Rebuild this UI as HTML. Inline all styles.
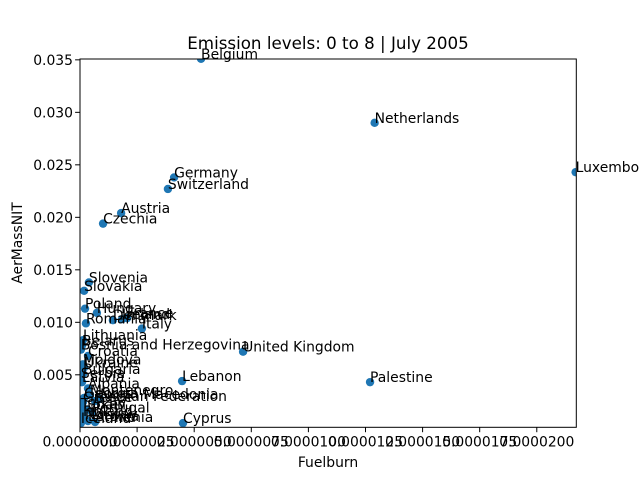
<!DOCTYPE html>
<html><head><meta charset="utf-8"><style>
html,body{margin:0;padding:0;background:#fff}
svg{display:block;font-family:"DejaVu Sans","Liberation Sans",sans-serif}
</style></head><body>
<svg id="chart" width="640" height="480">
<rect width="640" height="480" fill="#fff"/>
<text x="328" y="49" font-size="16.7" text-anchor="middle">Emission levels: 0 to 8 | July 2005</text>
<g id="plot"></g>
<rect x="80" y="59" width="496.3" height="368.3" fill="none" stroke="#000" stroke-width="1"/>
<g id="xaxis"></g><g id="yaxis"></g>
<text x="328" y="467" font-size="13.9" text-anchor="middle">Fuelburn</text>
<text x="0" y="0" font-size="13.9" text-anchor="middle" transform="translate(22,243) rotate(-90)">AerMassNIT</text>
</svg>
<script>
const countries=["Belgium","Netherlands","Luxembourg","Germany","Switzerland","Austria","Czechia","Slovenia","Slovakia","Poland","Hungary","France","Ireland","Denmark","Romania","Italy","Lithuania","Belarus","Bosnia and Herzegovina","United Kingdom","Croatia","Moldova","Ukraine","Bulgaria","Serbia","Latvia","Lebanon","Palestine","Albania","Montenegro","North Macedonia","Russian Federation","Georgia","Greece","Turkey","Spain","Portugal","Finland","Norway","Estonia","Iceland","Cyprus","Armenia"];
const fuelburn=[5.30e-6,1.29e-5,2.17e-5,4.12e-6,3.85e-6,1.80e-6,1.01e-6,0.39e-6,0.18e-6,0.22e-6,0.74e-6,2.06e-6,1.84e-6,1.44e-6,0.26e-6,2.71e-6,0.13e-6,0.09e-6,0.04e-6,7.14e-6,0.35e-6,0.13e-6,0.18e-6,0.13e-6,0.04e-6,0.09e-6,4.47e-6,1.27e-5,0.35e-6,0.44e-6,0.88e-6,0.66e-6,0.18e-6,0.13e-6,0.04e-6,0.31e-6,0.53e-6,0.13e-6,0.22e-6,0.35e-6,0.04e-6,4.51e-6,0.66e-6];
const aerMassNIT=[0.0351,0.0290,0.0243,0.0238,0.0227,0.0204,0.0194,0.0138,0.0130,0.0113,0.0109,0.0104,0.0103,0.0102,0.0099,0.0094,0.0083,0.0078,0.0074,0.0072,0.0068,0.0060,0.0057,0.0051,0.0047,0.0043,0.0044,0.0043,0.0037,0.0031,0.0027,0.0025,0.0028,0.0024,0.0018,0.0017,0.0014,0.0011,0.0008,0.0006,0.0004,0.0004,0.0005];
const xTicks=[0,2.5e-6,5e-6,7.5e-6,1e-5,1.25e-5,1.5e-5,1.75e-5,2e-5];
const xTickLabels=["0.0000000","0.0000025","0.0000050","0.0000075","0.0000100","0.0000125","0.0000150","0.0000175","0.0000200"];
const yTicks=[0.005,0.010,0.015,0.020,0.025,0.030,0.035];
const yTickLabels=["0.005","0.010","0.015","0.020","0.025","0.030","0.035"];
const NS="http://www.w3.org/2000/svg";
const X0=80,X1=576.3,Y0=427.3,Y1=59;
const xMin=0,xMax=2.173e-5,yMin=0,yMax=0.03508;
const sx=v=>X0+(v-xMin)/(xMax-xMin)*(X1-X0);
const sy=v=>Y0-(v-yMin)/(yMax-yMin)*(Y0-Y1);
function mk(tag,attrs,parent){const e=document.createElementNS(NS,tag);for(const k in attrs)e.setAttribute(k,attrs[k]);parent.appendChild(e);return e;}
const plot=document.getElementById('plot');
const clip=mk('clipPath',{id:'cp'},plot);mk('rect',{x:X0,y:Y1,width:X1-X0,height:Y0-Y1},clip);
const pts=mk('g',{'clip-path':'url(#cp)'},plot);
const labs=mk('g',{},plot);
countries.forEach((c,i)=>{
 const cx=sx(fuelburn[i]),cy=sy(aerMassNIT[i]);
 const d=mk('circle',{cx:cx,cy:cy,r:4.2,fill:'#1f77b4'},pts);
 
 
 const t=mk('text',{x:cx,y:cy,'font-size':13.9,fill:'#000'},labs);
 t.textContent=c;
 
 
});
const xa=document.getElementById('xaxis');
xTicks.forEach((v,i)=>{
 const x=sx(v);
 mk('line',{x1:x,x2:x,y1:Y0,y2:Y0+4.9,stroke:'#000'},xa);
 const t=mk('text',{x:x,y:Y0+19,'font-size':13.9,'text-anchor':'middle'},xa);
 t.textContent=xTickLabels[i];
 
 
});
const ya=document.getElementById('yaxis');
yTicks.forEach((v,i)=>{
 const y=sy(v);
 mk('line',{x1:X0-4.9,x2:X0,y1:y,y2:y,stroke:'#000'},ya);
 const t=mk('text',{x:X0-7,y:y+5,'font-size':13.9,'text-anchor':'end'},ya);
 t.textContent=yTickLabels[i];
 
 
});
</script>
</body></html>
